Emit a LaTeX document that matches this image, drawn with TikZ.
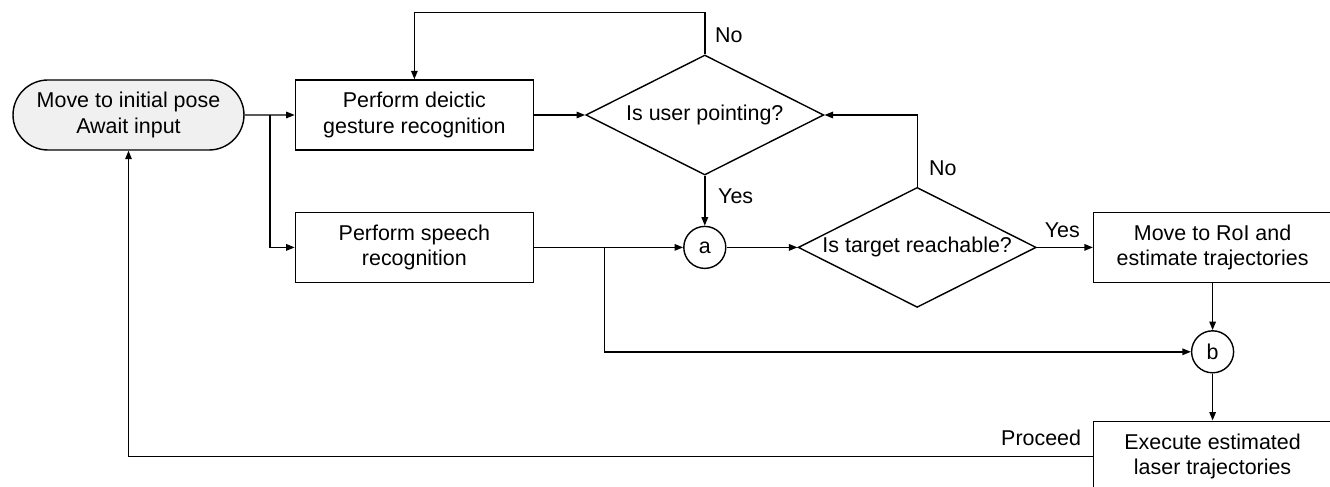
\documentclass[tikz,border=0pt]{standalone}
\usepackage{fontspec}
\setmainfont{Liberation Sans}
\usepackage{tikz}
\usetikzlibrary{arrows.meta,positioning,shapes.geometric,shapes.misc}
\tikzset{
  blk/.style   = {rectangle, draw=black, line width=0.8pt, align=center,
                  minimum width=47.6mm, minimum height=14mm, inner sep=2pt},
  startblk/.style = {blk, rounded rectangle, fill=black!6},
  dec/.style   = {diamond, draw=black, line width=0.8pt, aspect=2,
                  minimum width=47.6mm, minimum height=24mm, inner sep=0pt},
  jn/.style    = {circle, draw=black, line width=0.8pt, minimum size=8.4mm,
                  inner sep=0pt},
  lbl/.style   = {inner sep=0pt},
  ar/.style    = {-{Triangle[length=1.7mm,width=1.3mm]}, line width=0.8pt}
}

\begin{document}
\begin{tikzpicture}[font=\fontsize{12.2}{14.5}\selectfont]
    \useasboundingbox (0,0) rectangle (266mm,-97.4mm);

    % ---- Start ----
    \node[startblk] (start) at (25.7mm,-23mm) {Move to initial pose\\ Await input};

    % ---- Recognition ----
    \node[blk, right=10mm of start] (gest) {Perform deictic\\ gesture recognition};
    \node[blk, below=12.2mm of gest] (speech) {Perform speech\\ recognition};

    % ---- Decisions ----
    \node[dec, right=10.2mm of gest] (point) {Is user pointing?};
    \node[jn, below=10mm of point] (a) {a};
    \node[dec, right=14.2mm of a] (reach) {Is target reachable?};

    % ---- Motion and execution ----
    \node[blk, right=11.2mm of reach] (roi) {Move to RoI and\\ estimate trajectories};
    \node[jn, below=9.4mm of roi] (b) {b};
    \node[blk, below=9.4mm of b] (exec) {Execute estimated\\ laser trajectories};

    % ---- Branch points ----
    \coordinate[right=5.1mm of start.east] (fork1);
    \coordinate[right=14.1mm of speech.east] (fork2);

    % ---- Arrows ----
    \draw[ar] (start) -- (gest);
    \draw[ar] (fork1) |- (speech);
    \draw[ar] (gest) -- (point);
    \draw[ar] (point) -- (a);
    \draw[ar] (point.north) -- ++(0,8.4mm) -| (gest.north);
    \draw[ar] (speech) -- (a);
    \draw[ar] (fork2) |- (b);
    \draw[ar] (a) -- (reach);
    \draw[ar] (reach) -- (roi);
    \draw[ar] (reach.north) |- (point.east);
    \draw[ar] (roi) -- (b);
    \draw[ar] (b) -- (exec);
    \draw[ar] (exec.west) -| (start.south);

    % ---- Labels ----
    \node[lbl, anchor=west] (no1) at ([shift={(2mm,3.8mm)}]point.north) {No};
    \node[lbl, anchor=west] (yes1) at ([shift={(2.6mm,-4.2mm)}]point.south) {Yes};
    \node[lbl, anchor=west] (no2) at ([shift={(2.3mm,3.6mm)}]reach.north) {No};
    \node[lbl, anchor=west] (yes2) at ([shift={(1.5mm,3.4mm)}]reach.east) {Yes};
    \node[lbl, anchor=east] (proceed) at ([shift={(-2.3mm,3.6mm)}]exec.west) {Proceed};
  \end{tikzpicture}
\end{document}
